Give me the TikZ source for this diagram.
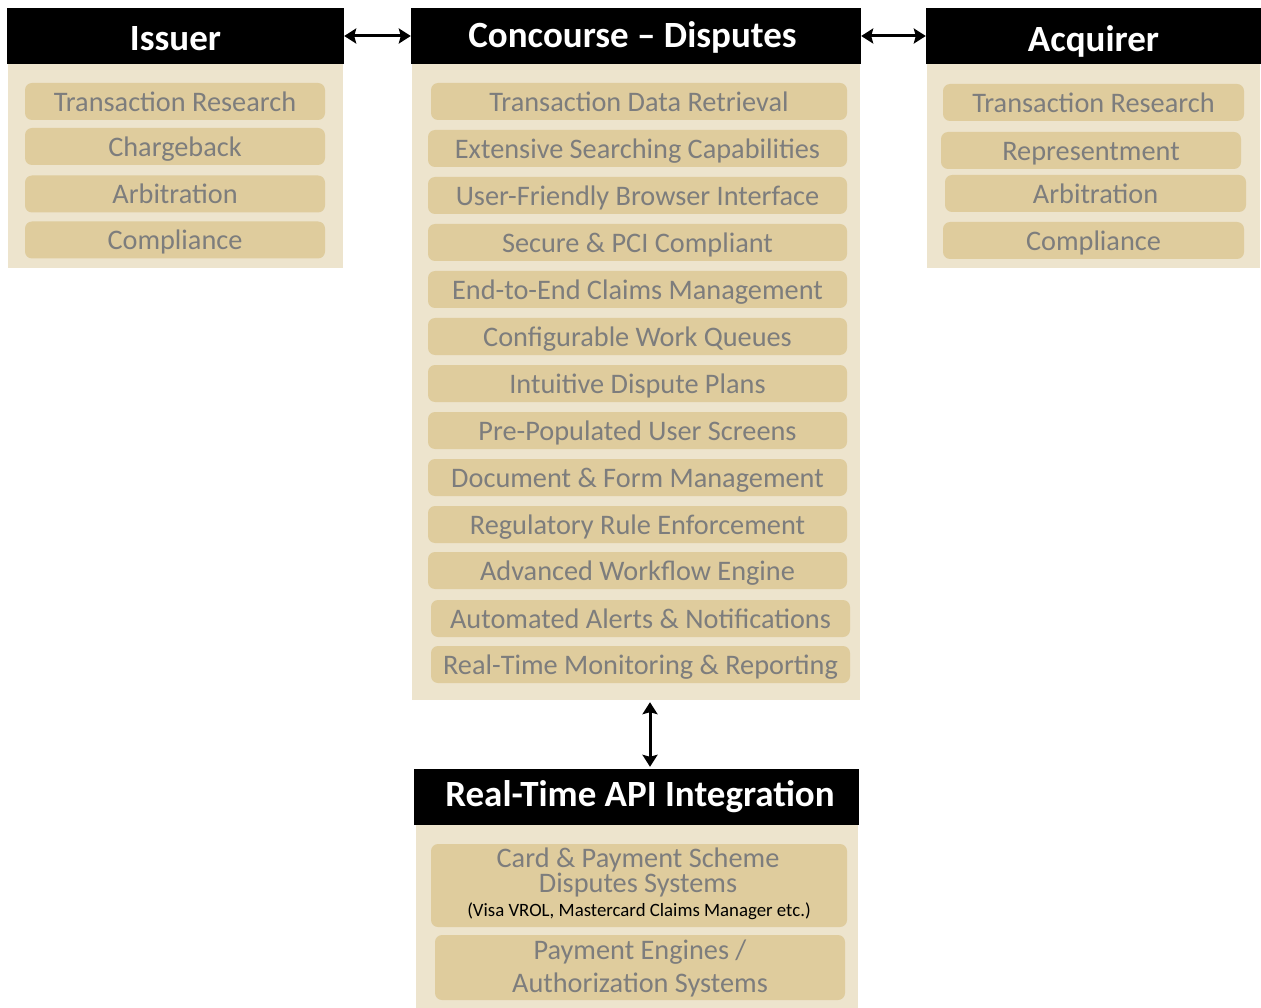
\documentclass[tikz,border=0pt]{standalone}
\usepackage{fontspec}
\setmainfont{Carlito}
\usetikzlibrary{arrows.meta,calc}
\definecolor{panelc}{RGB}{237,228,205}
\definecolor{itemc}{RGB}{223,204,157}
\definecolor{txtc}{RGB}{125,125,125}
\tikzset{
  hdr/.style={fill=black, text=white, inner sep=0pt, minimum height=56pt,
    font=\fontsize{37}{40}\selectfont\bfseries, text height=23.8pt, text depth=0pt},
  panel/.style={fill=panelc, draw=none},
  item/.style={fill=itemc, rounded corners=7pt, inner sep=0pt, minimum height=37pt,
    text=txtc, font=\fontsize{28.3}{30}\selectfont, text height=19.5pt, text depth=0pt},
  lbl/.style={text=txtc, font=\fontsize{28.3}{30}\selectfont, anchor=base, inner sep=0pt},
  small/.style={text=black, font=\fontsize{18.8}{20}\selectfont, anchor=base, inner sep=0pt},
  arr/.style={line width=3pt, {Stealth[length=12pt,width=15pt,inset=2pt]}-{Stealth[length=12pt,width=15pt,inset=2pt]}}
}
\begin{document}
\begin{tikzpicture}[x=1pt,y=-1pt]
\useasboundingbox[fill=white] (0,0) rectangle (1261,1008);

% ---------- Issuer ----------
\fill[panel] (8,64) rectangle (343,268);
\node[hdr, minimum width=337pt] (issH) at (175.5,36) {\raisebox{-2.5pt}{Issuer}};
\node[item, minimum width=300pt] (i1) at (175,101.5) {Transaction Research};
\node[item, minimum width=300pt] (i2) at (175,146.5) {Chargeback};
\node[item, minimum width=300pt] (i3) at (175,194) {Arbitration};
\node[item, minimum width=300pt] (i4) at (175,240) {Compliance};

% ---------- Concourse ----------
\node[panel, inner sep=0pt, minimum width=448pt, minimum height=636pt] (concP) at (636,382) {};
\node[hdr, minimum width=450pt] (concH) at (636,36) {\hspace*{-7pt}Concourse – Disputes};
\node[item, minimum width=416pt] (c1) at (639,101.5) {Transaction Data Retrieval};
\node[item, minimum width=419pt] (c2) at (637.5,148.5) {Extensive Searching Capabilities};
\node[item, minimum width=419pt] (c3) at (637.5,195.5) {User-Friendly Browser Interface};
\node[item, minimum width=419pt] (c4) at (637.5,242.5) {Secure \& PCI Compliant};
\node[item, minimum width=419pt] (c5) at (637.5,289.5) {End-to-End Claims Management};
\node[item, minimum width=419pt] (c6) at (637.5,336.5) {Configurable Work Queues};
\node[item, minimum width=419pt] (c7) at (637.5,383.5) {Intuitive Dispute Plans};
\node[item, minimum width=419pt] (c8) at (637.5,430.5) {Pre-Populated User Screens};
\node[item, minimum width=419pt] (c9) at (637.5,477.5) {Document \& Form Management};
\node[item, minimum width=419pt] (c10) at (637.5,524.5) {Regulatory Rule Enforcement};
\node[item, minimum width=419pt] (c11) at (637.5,570.5) {Advanced Workflow Engine};
\node[item, minimum width=419pt] (c12) at (640.5,618.5) {Automated Alerts \& Notifications};
\node[item, minimum width=419pt] (c13) at (640.5,664.5) {Real-Time Monitoring \& Reporting};

% ---------- Acquirer ----------
\fill[panel] (927,64) rectangle (1260,268);
\node[hdr, minimum width=335pt] (acqH) at (1093.5,36) {\raisebox{-4pt}{Acquirer}};
\node[item, minimum width=301pt] (a1) at (1093.5,102.5) {Transaction Research};
\node[item, minimum width=300pt] (a2) at (1091,150.5) {Representment};
\node[item, minimum width=301pt] (a3) at (1095.5,193.5) {Arbitration};
\node[item, minimum width=301pt] (a4) at (1093.5,240.5) {Compliance};

% ---------- API ----------
\fill[panel] (416,825) rectangle (858,1008);
\node[hdr, minimum width=445pt] (apiH) at (636.5,797) {\hspace*{7pt}\raisebox{2pt}{Real-Time API Integration}};
\node[item, minimum width=416pt, minimum height=83pt] (p1) at (639,885.5) {};
\node[lbl, align=center, font=\fontsize{28.3}{25}\selectfont] (p1a) at ($(p1.north)+(-1,48.5)$) {Card \& Payment Scheme\\Disputes Systems};
\node[small] (p1c) at ($(p1.north)+(0,73)$) {(Visa VROL, Mastercard Claims Manager etc.)};
\node[item, minimum width=410pt, minimum height=65pt] (p2) at (640,967.5) {};
\node[lbl] (p2a) at ($(p2.north)+(0,25)$) {Payment Engines /};
\node[lbl] (p2b) at ($(p2.north)+(0,58)$) {Authorization Systems};

% ---------- Connectors ----------
\draw[arr] (issH.east) -- (concH.west);
\draw[arr] (concH.east) -- (acqH.west);
\coordinate (ax) at (650,0);
\draw[arr] ($(concP.south -| ax)+(0,2)$) -- ($(apiH.north -| ax)+(0,-2)$);
\end{tikzpicture}
\end{document}
